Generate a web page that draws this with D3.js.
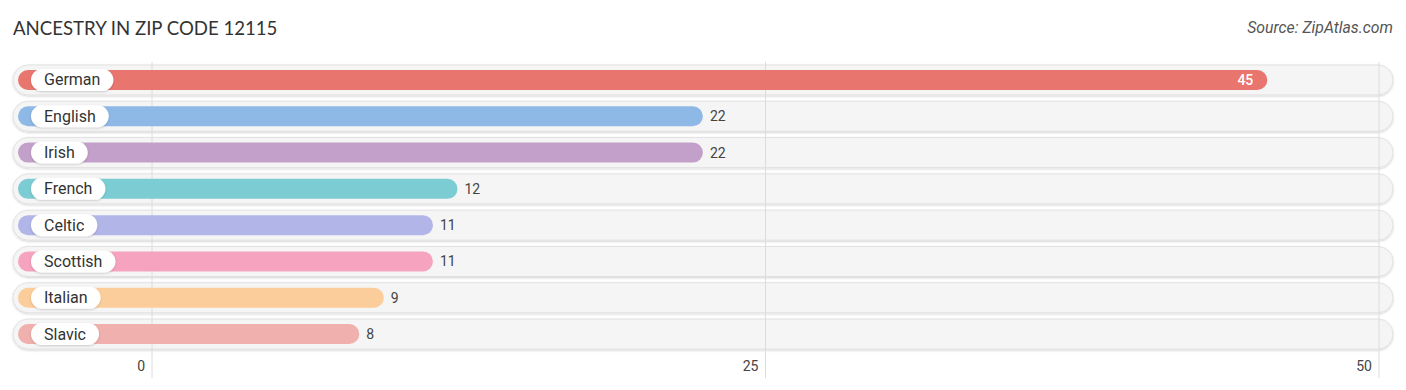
<!DOCTYPE html>
<html><head><meta charset="utf-8">
<script src="https://cdn.jsdelivr.net/npm/d3@7"></script>
<style>body{margin:0;background:#fff;font-family:Roboto,"Open Sans",sans-serif;}</style>
</head><body><svg id="c" width="1406" height="390"></svg>
<script>
const categories = ["German","English","Irish","French","Celtic","Scottish","Italian","Slavic"];
const values = [45,22,22,12,11,11,9,8];
const colors = ["#e8766f","#8eb8e5","#c3a0c9","#7cccd3","#b1b5e8","#f5a3bf","#fbcd9b","#f0b0ad"];
const tickValues = [0,25,50];

const svg = d3.select("#c");
const x = d3.scaleLinear().domain([0,50]).range([152,1379]);
const y = d3.scaleBand().domain(categories).range([62,352]).paddingInner(0.17).paddingOuter(0.08);
const rowC = d => y(d) + y.bandwidth()/2;

svg.append("text").attr("x",13).attr("y",35).attr("font-size",18.6).attr("fill","#333")
  .attr("font-family","Lato, 'Open Sans', sans-serif").text("ANCESTRY IN ZIP CODE 12115");
svg.append("text").attr("x",1393).attr("y",33).attr("text-anchor","end").attr("font-size",15.8)
  .attr("font-style","italic").attr("fill","#555").text("Source: ZipAtlas.com");

const defs = svg.append("defs");
const f = defs.append("filter").attr("id","sh").attr("x","-5%").attr("y","-50%").attr("width","110%").attr("height","200%");
f.append("feDropShadow").attr("dx",0).attr("dy",1).attr("stdDeviation",1.2).attr("flood-color","#000").attr("flood-opacity",0.18);

const trackH = 30, barH = 20;
svg.append("g").selectAll("rect").data(categories).join("rect")
  .attr("x",13).attr("y",d=>rowC(d)-trackH/2).attr("width",1380).attr("height",trackH)
  .attr("rx",trackH/2).attr("fill","#f5f5f5").attr("stroke","#e2e2e2").attr("stroke-width",1).attr("filter","url(#sh)");

svg.append("g").selectAll("line").data(tickValues).join("line")
  .attr("x1",d=>x(d)).attr("x2",d=>x(d)).attr("y1",62).attr("y2",378)
  .attr("stroke","#dcdcdc").attr("stroke-width",1);

const rows = svg.append("g").selectAll("g").data(categories).join("g");
rows.append("rect").attr("x",18).attr("y",d=>rowC(d)-barH/2)
  .attr("width",(d,i)=>x(values[i])+11-18).attr("height",barH).attr("rx",barH/2)
  .attr("fill",(d,i)=>colors[i]);

rows.each(function(d){
  const gg = d3.select(this);
  const t = gg.append("text").attr("x",44).attr("y",rowC(d)+5.5).attr("font-size",16).attr("fill","#333").text(d);
  const w = t.node().getComputedTextLength();
  gg.insert("rect","text").attr("x",31).attr("y",rowC(d)-11).attr("width",w+26).attr("height",22)
    .attr("rx",11).attr("fill","#fff").attr("filter","url(#sh)");
});

rows.append("text")
  .attr("x",(d,i)=> values[i]>=40 ? x(values[i])-3 : x(values[i])+18)
  .attr("y",d=>rowC(d)+5).attr("font-size",14)
  .attr("text-anchor",(d,i)=> values[i]>=40 ? "end":"start")
  .attr("fill",(d,i)=> values[i]>=40 ? "#fff":"#444")
  .attr("font-weight",(d,i)=> values[i]>=40 ? 500:400)
  .text((d,i)=>values[i]);

svg.append("g").selectAll("text").data(tickValues).join("text")
  .attr("x",d=>x(d)-7).attr("y",371).attr("text-anchor","end").attr("font-size",14).attr("fill","#444")
  .text(d=>d);
</script></body></html>
